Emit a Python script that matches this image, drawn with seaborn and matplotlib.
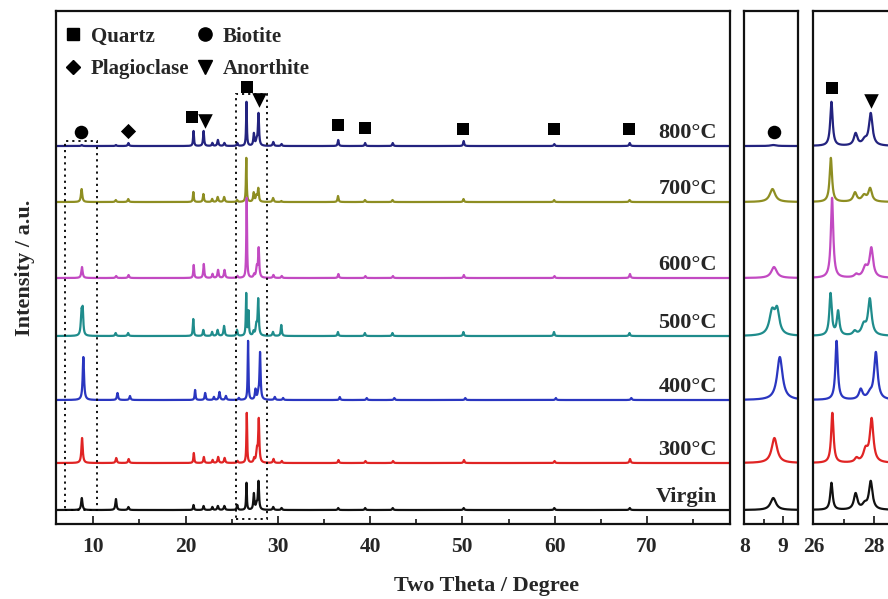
import numpy as np
import matplotlib
matplotlib.use("Agg")
import matplotlib.pyplot as plt
import seaborn as sns
from matplotlib.lines import Line2D
from matplotlib.patches import Rectangle

# ---------------- data ----------------
# reflections (2theta, degree) and their peak widths (FWHM, degree)
peak_pos = [8.75, 8.88, 12.45, 13.8, 20.86, 21.95, 22.9, 23.5, 24.2, 25.6,
            26.6, 26.85, 27.4, 27.7, 27.9, 29.5, 30.4, 36.54, 39.46, 42.45,
            50.14, 59.96, 68.14]
peak_fwhm = [0.17, 0.14, 0.15, 0.15, 0.11, 0.13, 0.13, 0.15, 0.15, 0.13,
             0.095, 0.1, 0.14, 0.18, 0.14, 0.15, 0.13, 0.13, 0.13, 0.13,
             0.13, 0.13, 0.15]

samples = ["800\u00b0C", "700\u00b0C", "600\u00b0C", "500\u00b0C", "400\u00b0C", "300\u00b0C", "Virgin"]
colors = ["#23237f", "#8e8e22", "#c24ac2", "#1f8c8c", "#2a36c0", "#e02424", "#111111"]
baselines = [378, 322, 246, 188, 124, 61, 14]          # vertical offsets (a.u.)
shifts = [0.0, -0.02, 0.02, -0.03, 0.17, 0.03, 0.0]   # peak displacement (degree)

h_800 = [1, 0, 1, 3, 15, 15, 3, 6, 3, 3, 44, 0, 12, 5, 32, 4, 2, 6, 3, 3, 5, 2, 3]
h_700 = [13, 0, 2, 3, 10, 8, 3, 5, 5, 2, 44, 0, 9, 6, 13, 4, 1, 6, 2, 2, 3, 2, 2]
h_600 = [11, 0, 2, 3, 13, 14, 4, 8, 8, 2, 80, 0, 3, 10, 29, 3, 2, 4, 2, 2, 3, 2, 4]
h_500 = [23, 23, 3, 3, 17, 6, 4, 6, 10, 6, 42, 24, 4, 10, 36, 4, 11, 4, 3, 3, 4, 4, 3]
h_400 = [43, 0, 7, 4, 10, 7, 3, 8, 4, 2, 59, 0, 10, 5, 47, 3, 2, 3, 2, 2, 2, 2, 2]
h_300 = [25, 0, 5, 4, 10, 6, 3, 6, 5, 2, 50, 0, 4, 12, 43, 4, 2, 3, 2, 2, 3, 2, 4]
h_virgin = [12, 0, 11, 3, 5, 4, 3, 4, 4, 5, 27, 0, 16, 5, 28, 3, 2, 2, 2, 2, 2, 2, 2]
heights = [h_800, h_700, h_600, h_500, h_400, h_300, h_virgin]

# phase markers
mk_x = [8.67, 13.76, 20.7, 22.1, 26.62, 27.98, 36.5, 39.5, 50.1, 59.9, 68.1]
mk_y = [392, 393, 407, 403, 437, 424, 399, 396, 395, 395, 395]
mk_kind = ["o", "D", "s", "v", "s", "v", "s", "s", "s", "s", "s"]
mid_mk_x, mid_mk_y, mid_mk_kind = [8.78], [392], ["o"]
right_mk_x, right_mk_y, right_mk_kind = [26.63, 27.92], [436, 423], ["s", "v"]

# dotted zoom boxes: x0, x1, y0, y1
box_x0 = [6.9, 25.5]
box_x1 = [10.4, 28.8]
box_y0 = [14, 5]
box_y1 = [383, 430]

main_ticks = [10, 20, 30, 40, 50, 60, 70]

# ---------------- style ----------------
sns.set_style("white")
plt.rcParams["font.family"] = ["Liberation Serif", "DejaVu Serif"]
plt.rcParams["font.weight"] = "bold"
plt.rcParams["axes.linewidth"] = 1.6

fig = plt.figure(figsize=(8.88, 5.99), dpi=100)
fig.patch.set_facecolor("white")
bottom, top = 0.1252, 0.9816
ax1 = fig.add_axes([0.0627, bottom, 0.822 - 0.0627, top - bottom])
ax2 = fig.add_axes([0.8382, bottom, 0.899 - 0.8382, top - bottom])
ax3 = fig.add_axes([0.9159, bottom, 1.003 - 0.9159, top - bottom])

x = np.arange(5.8, 79.2, 0.004)

def spectrum(hs, shift, base):
    y = np.full_like(x, float(base))
    for p, w, h in zip(peak_pos, peak_fwhm, hs):
        if h:
            y += h / (1.0 + ((x - p - shift) / (w / 2.0)) ** 2)
    return y

curves = [spectrum(h, s, b) for h, s, b in zip(heights, shifts, baselines)]

for ax in (ax1, ax2, ax3):
    for yv, c in zip(curves, colors):
        sns.lineplot(x=x, y=yv, ax=ax, color=c, lw=1.6, sort=False, estimator=None)
    ax.set_ylim(0, 513)
    ax.set_yticks([])
    ax.set_xlabel("")
    ax.set_ylabel("")
    for sp in ax.spines.values():
        sp.set_visible(True)
        sp.set_color("#111111")
        sp.set_linewidth(1.6)
    ax.tick_params(axis="x", which="major", direction="in", length=6, width=1.3,
                   labelsize=15.5, pad=9, bottom=True, top=False)
    ax.tick_params(axis="x", which="minor", direction="in", length=3.5, width=1.3,
                   bottom=True, top=False)

ax1.set_xlim(5.92, 79.0)
ax1.set_xticks(main_ticks)
ax1.set_xticks([15, 25, 35, 45, 55, 65, 75], minor=True)
ax2.set_xlim(8.0, 9.4)
ax2.set_xticks([8, 9])
ax2.set_xticks([8.5], minor=True)
ax3.set_xlim(26.0, 28.56)
ax3.set_xticks([26, 28])
ax3.set_xticks([27], minor=True)
for ax in (ax1, ax2, ax3):
    for lab in ax.get_xticklabels():
        lab.set_fontweight("bold")

# markers
def draw_markers(ax, xs, ys, kinds):
    size = {"s": 75, "o": 95, "D": 60, "v": 110}
    for xv, yv, k in zip(xs, ys, kinds):
        ax.scatter([xv], [yv], marker=k, s=size[k], color="black", zorder=5, linewidths=0)

draw_markers(ax1, mk_x, mk_y, mk_kind)
draw_markers(ax2, mid_mk_x, mid_mk_y, mid_mk_kind)
draw_markers(ax3, right_mk_x, right_mk_y, right_mk_kind)

# dotted boxes
for x0, x1, y0, y1 in zip(box_x0, box_x1, box_y0, box_y1):
    ax1.add_patch(Rectangle((x0, y0), x1 - x0, y1 - y0, fill=False, ls=(0, (1.2, 2.2)),
                            lw=1.3, ec="black", zorder=4))

# sample labels
for name, b in zip(samples, baselines):
    ax1.text(77.6, b + 13, name, ha="right", va="center", fontsize=16, fontweight="bold")

# legend
handles = [
    Line2D([], [], marker="s", ls="None", color="black", markersize=8.5, label="Quartz"),
    Line2D([], [], marker="D", ls="None", color="black", markersize=7.5, label="Plagioclase"),
    Line2D([], [], marker="o", ls="None", color="black", markersize=9.5, label="Biotite"),
    Line2D([], [], marker="v", ls="None", color="black", markersize=10, label="Anorthite"),
]
ax1.legend(handles=handles, ncol=2, loc="upper left", bbox_to_anchor=(-0.01, 1.0),
           frameon=False,
           prop={"family": "Liberation Serif", "weight": "bold", "size": 15},
           handlelength=0.8, handletextpad=0.45, columnspacing=0.35, labelspacing=0.6,
           borderaxespad=0.55, borderpad=0.2)

ax1.set_ylabel("Intensity / a.u.", fontsize=16, fontweight="bold", labelpad=15)
fig.text(0.548, 0.022, "Two Theta / Degree", ha="center", va="center",
         fontsize=16, fontweight="bold")

fig.savefig("out.png", dpi=100)
